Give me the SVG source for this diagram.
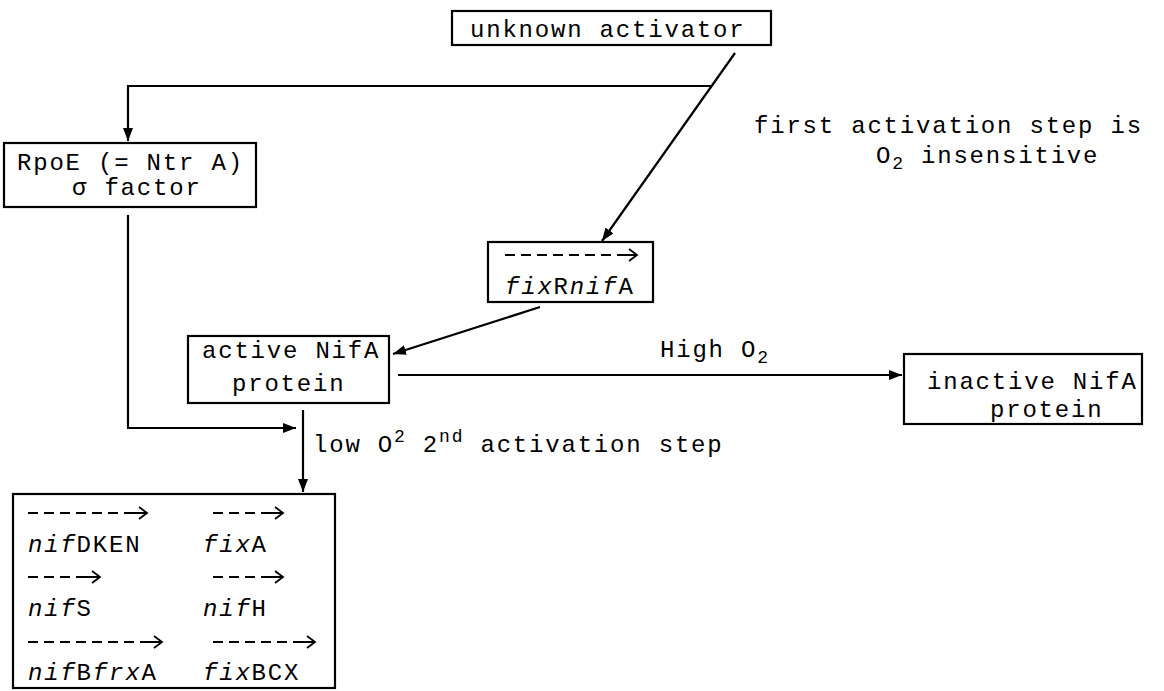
<svg xmlns="http://www.w3.org/2000/svg" width="1164" height="691" viewBox="0 0 1164 691">
<style>
  .box { fill: #fff; stroke: #000; stroke-width: 2.2; }
  .t { font-family: "Liberation Mono", "Courier New", monospace; font-size: 24px; letter-spacing: 1.8px; fill: #000; }
  .i { font-style: italic; }
  .sup { font-size: 18px; }
  .line { fill: none; stroke: #000; stroke-width: 2.2; }
  .dash { fill: none; stroke: #000; stroke-width: 1.8; stroke-dasharray: 10 6; }
  .head { fill: none; stroke: #000; stroke-width: 1.8; }
</style>
<defs>
  <marker id="arrow" markerUnits="userSpaceOnUse" markerWidth="14" markerHeight="10" refX="13" refY="5" orient="auto">
    <path d="M0,0 L13,5 L0,10 z" fill="#000"/>
  </marker>
</defs>

<g id="connectors">
  <path class="line" d="M712,86 H128 V141" marker-end="url(#arrow)"/>
  <path class="line" d="M735,53 L602,241" marker-end="url(#arrow)"/>
  <path class="line" d="M128,215 V428 H296" marker-end="url(#arrow)"/>
  <path class="line" d="M540,307 L393,354" marker-end="url(#arrow)"/>
  <path class="line" d="M398,375 H902" marker-end="url(#arrow)"/>
  <path class="line" d="M303,410 V492" marker-end="url(#arrow)"/>
</g>

<g id="unknown-activator">
  <rect class="box" x="452" y="11" width="319" height="34"/>
  <text class="t" x="470" y="37">unknown activator</text>
</g>

<g id="first-activation-label">
  <text class="t" x="754" y="133">first activation step is</text>
  <text class="t" x="876" y="163">O<tspan class="sup" dy="6">2</tspan><tspan dy="-6"> insensitive</tspan></text>
</g>

<g id="rpoe">
  <rect class="box" x="4" y="143" width="252" height="64"/>
  <text class="t" x="17" y="170">RpoE (= Ntr A)</text>
  <text class="t" x="72" y="195">σ factor</text>
</g>

<g id="fixRnifA">
  <rect class="box" x="488" y="242" width="165" height="60"/>
  <path class="dash" d="M505,255 H620"/>
  <path class="head" d="M618,255 H637 M629,249 L637,255 L629,261"/>
  <text class="t" x="505" y="294"><tspan class="i">fix</tspan>R<tspan class="i">nif</tspan>A</text>
</g>

<g id="active-nifa">
  <rect class="box" x="188" y="336" width="201" height="67"/>
  <text class="t" x="202" y="358">active NifA</text>
  <text class="t" x="232" y="391">protein</text>
</g>

<g id="high-o2-label">
  <text class="t" x="660" y="357">High O<tspan class="sup" dy="6">2</tspan></text>
</g>

<g id="inactive-nifa">
  <rect class="box" x="904" y="354" width="238" height="70"/>
  <text class="t" x="927" y="389">inactive NifA</text>
  <text class="t" x="990" y="417">protein</text>
</g>

<g id="low-o2-label">
  <text class="t" x="313" y="452">low O<tspan class="sup" dy="-10">2</tspan><tspan dy="10"> 2</tspan><tspan class="sup" dy="-10">nd</tspan><tspan dy="10"> activation step</tspan></text>
</g>

<g id="genes">
  <rect class="box" x="13" y="494" width="322" height="194"/>
  <path class="dash" d="M28,513 H130"/>
  <path class="head" d="M128,513 H147 M139,507 L147,513 L139,519"/>
  <path class="dash" d="M213,513 H266"/>
  <path class="head" d="M264,513 H283 M275,507 L283,513 L275,519"/>
  <text class="t" x="28" y="552"><tspan class="i">nif</tspan>DKEN</text>
  <text class="t" x="203" y="552"><tspan class="i">fix</tspan>A</text>

  <path class="dash" d="M28,577 H84"/>
  <path class="head" d="M81,577 H100 M92,571 L100,577 L92,583"/>
  <path class="dash" d="M213,577 H266"/>
  <path class="head" d="M264,577 H283 M275,571 L283,577 L275,583"/>
  <text class="t" x="28" y="616"><tspan class="i">nif</tspan>S</text>
  <text class="t" x="203" y="616"><tspan class="i">nif</tspan>H</text>

  <path class="dash" d="M28,642 H145"/>
  <path class="head" d="M143,642 H162 M154,636 L162,642 L154,648"/>
  <path class="dash" d="M213,642 H298"/>
  <path class="head" d="M296,642 H315 M307,636 L315,642 L307,648"/>
  <text class="t" x="28" y="680"><tspan class="i">nif</tspan>B<tspan class="i">frx</tspan>A</text>
  <text class="t" x="203" y="680"><tspan class="i">fix</tspan>BCX</text>
</g>
</svg>
